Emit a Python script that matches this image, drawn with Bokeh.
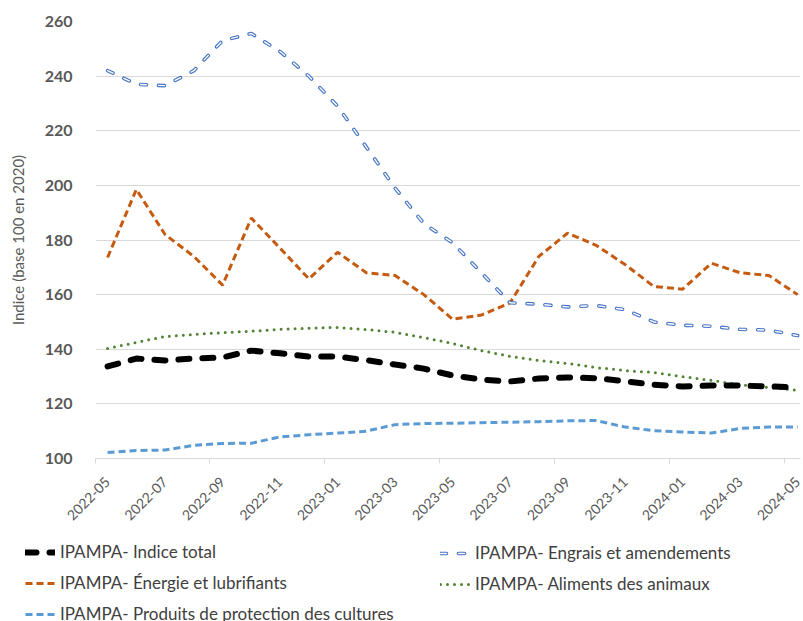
import math
from bokeh.plotting import figure
from bokeh.models import (Range1d, FixedTicker, Legend, LegendItem, ColumnDataSource)
from bokeh.embed import file_html
from bokeh.resources import INLINE

months = ["2022-05", "2022-06", "2022-07", "2022-08", "2022-09", "2022-10", "2022-11", "2022-12",
          "2023-01", "2023-02", "2023-03", "2023-04", "2023-05", "2023-06", "2023-07", "2023-08",
          "2023-09", "2023-10", "2023-11", "2023-12", "2024-01", "2024-02", "2024-03", "2024-04",
          "2024-05"]

indice_total = [133.7, 136.6, 135.9, 136.6, 137.0, 139.5, 138.5, 137.3, 137.3, 136.0, 134.4, 132.9,
                130.4, 128.9, 128.2, 129.3, 129.7, 129.4, 128.3, 127.0, 126.4, 126.7, 126.7, 126.4, 126.0]
engrais = [242.0, 237.0, 236.5, 242.0, 253.0, 255.6, 249.0, 240.0, 229.0, 214.0, 199.0, 186.0,
           179.0, 168.0, 157.0, 156.5, 155.5, 156.0, 154.5, 150.0, 148.8, 148.4, 147.3, 147.0, 145.0]
energie = [173.6, 198.5, 182.0, 174.0, 163.5, 188.0, 177.0, 165.8, 175.5, 168.0, 167.0, 160.0,
           151.0, 152.5, 157.0, 174.0, 182.5, 178.0, 171.0, 163.0, 162.0, 171.5, 168.0, 167.0, 160.0]
aliments = [140.3, 142.5, 144.7, 145.4, 146.1, 146.6, 147.3, 147.7, 148.0, 147.2, 146.2, 144.3,
            142.1, 139.5, 137.4, 135.9, 134.8, 133.3, 132.2, 131.5, 130.0, 128.6, 127.0, 126.0, 125.0]
produits = [102.2, 102.9, 103.1, 104.8, 105.5, 105.6, 107.9, 108.7, 109.3, 110.0, 112.4, 112.8,
            112.9, 113.1, 113.3, 113.5, 113.8, 113.9, 111.5, 110.2, 109.7, 109.3, 111.0, 111.5, 111.5]

labels = ["IPAMPA- Indice total", "IPAMPA- Engrais et amendements",
          "IPAMPA- Énergie et lubrifiants", "IPAMPA- Aliments des animaux",
          "IPAMPA- Produits de protection des cultures"]

y_ticks = [100, 120, 140, 160, 180, 200, 220, 240, 260]

x = list(range(len(months)))
src = ColumnDataSource(dict(x=x, total=indice_total, engrais=engrais, energie=energie,
                            aliments=aliments, produits=produits))

FONT = "Lato"
GRAY = "#595959"

STYLES = {
    "produits": dict(line_color="#5B9BD5", line_width=3, line_dash="7 4"),
    "aliments": dict(line_color="#548235", line_width=3, line_dash="0 7", line_cap="round"),
    "energie": dict(line_color="#C55A11", line_width=3, line_dash="7 4"),
    "engrais1": dict(line_color="#4472C4", line_width=3.6, line_dash="6 12", line_cap="round"),
    "engrais2": dict(line_color="white", line_width=1.4, line_dash="6 12", line_cap="round"),
    "total": dict(line_color="black", line_width=6, line_dash="11 13", line_cap="round"),
}

p = figure(width=803, height=530, output_backend="svg", toolbar_location=None,
           x_range=Range1d(-0.42, 24.1), y_range=Range1d(100, 260),
           min_border_left=95, min_border_right=3, min_border_top=21, min_border_bottom=72)
p.outline_line_color = None
p.background_fill_color = "white"
p.border_fill_color = "white"

# grid
p.xgrid.visible = False
p.ygrid.grid_line_color = "#D9D9D9"
p.ygrid.grid_line_width = 1
p.ygrid.ticker = FixedTicker(ticks=y_ticks)

# y axis
p.yaxis.ticker = FixedTicker(ticks=y_ticks)
p.yaxis.axis_line_color = None
p.yaxis.major_tick_line_color = None
p.yaxis.minor_tick_line_color = None
p.yaxis.major_label_text_font = FONT
p.yaxis.major_label_text_font_style = "bold"
p.yaxis.major_label_text_font_size = "16px"
p.yaxis.major_label_text_color = GRAY
p.yaxis.major_label_standoff = 17
p.yaxis.axis_label = "Indice (base 100 en 2020)"
p.yaxis.axis_label_text_font = FONT
p.yaxis.axis_label_text_font_style = "normal"
p.yaxis.axis_label_text_font_size = "15px"
p.yaxis.axis_label_text_color = GRAY
p.yaxis.axis_label_standoff = 15

# x axis
major = list(range(0, len(months), 2))
p.xaxis.ticker = FixedTicker(ticks=major, minor_ticks=[-0.42, 3.55, 7.55, 11.55, 15.55, 19.55, 23.55])
p.xaxis.major_label_overrides = {i: months[i] for i in major}
p.xaxis.major_label_orientation = math.pi / 4
p.xaxis.axis_line_color = "#D9D9D9"
p.xaxis.axis_line_width = 1
p.xaxis.major_tick_line_color = None
p.xaxis.minor_tick_line_color = "#D9D9D9"
p.xaxis.minor_tick_out = 5
p.xaxis.minor_tick_in = 0
p.xaxis.major_label_text_font = FONT
p.xaxis.major_label_text_font_size = "14px"
p.xaxis.major_label_text_color = GRAY
p.xaxis.major_label_standoff = 15

# series
p.line("x", "produits", source=src, **STYLES["produits"])
p.line("x", "aliments", source=src, **STYLES["aliments"])
p.line("x", "energie", source=src, **STYLES["energie"])
p.line("x", "engrais", source=src, **STYLES["engrais1"])
p.line("x", "engrais", source=src, **STYLES["engrais2"])
p.line("x", "total", source=src, **STYLES["total"])

# legend panel (separate root below the chart)
q = figure(width=803, height=91, output_backend="svg", toolbar_location=None,
           x_range=Range1d(0, 1), y_range=Range1d(0, 1),
           x_axis_location=None, y_axis_location=None,
           min_border_left=0, min_border_right=0, min_border_top=0, min_border_bottom=0)
q.grid.visible = False
q.outline_line_color = None
q.border_fill_color = "white"
q.background_fill_color = "white"

off_x, off_y = [5, 6], [5, 5]   # outside the visible range: only the legend glyphs show
g_tot = q.line(x=off_x, y=off_y, **STYLES["total"])
g_ener = q.line(x=off_x, y=off_y, **STYLES["energie"])
g_prod = q.line(x=off_x, y=off_y, **STYLES["produits"])
g_eng1 = q.line(x=off_x, y=off_y, **STYLES["engrais1"])
g_eng2 = q.line(x=off_x, y=off_y, **STYLES["engrais2"])
g_alim = q.line(x=off_x, y=off_y, **STYLES["aliments"])

def mk_legend(items, loc):
    return Legend(items=items, location=loc, orientation="vertical",
                  padding=0, margin=0, spacing=10, glyph_width=30, glyph_height=18,
                  label_height=18, label_standoff=5,
                  label_text_font=FONT, label_text_font_size="17px", label_text_color="#404040",
                  background_fill_alpha=0, border_line_alpha=0)

leg1 = mk_legend([LegendItem(label=labels[0], renderers=[g_tot]),
                  LegendItem(label=labels[2], renderers=[g_ener]),
                  LegendItem(label=labels[4], renderers=[g_prod])], (25, -3))
leg2 = mk_legend([LegendItem(label=labels[1], renderers=[g_eng1, g_eng2]),
                  LegendItem(label=labels[3], renderers=[g_alim])], (440, 27))
q.add_layout(leg1, "center")
q.add_layout(leg2, "center")

open("out.html", "w").write(file_html([p, q], INLINE))
